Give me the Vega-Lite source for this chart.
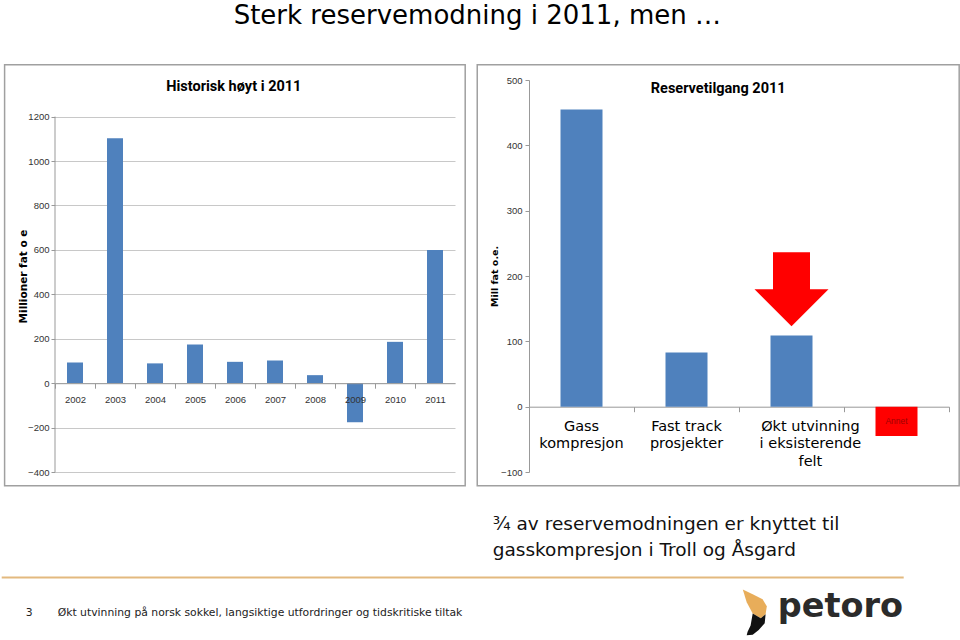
{
  "$schema": "https://vega.github.io/schema/vega-lite/v6.json",
  "background": "white",
  "padding": {"left": 0, "top": 3, "right": 0, "bottom": 0},
  "title": {"text": "Sterk reservemodning i 2011, men …", "anchor": "middle", "frame": "bounds", "font": "DejaVu Sans", "fontSize": 26, "fontWeight": "normal", "color": "#000000", "baseline": "alphabetic", "offset": 14, "dx": -3},
  "config": {"view": {"stroke": null}, "font": "Liberation Sans"},
  "datasets": {
    "hist": [
      {"year": 2002, "value": 93},
      {"year": 2003, "value": 1102},
      {"year": 2004, "value": 89},
      {"year": 2005, "value": 174},
      {"year": 2006, "value": 96},
      {"year": 2007, "value": 102},
      {"year": 2008, "value": 36},
      {"year": 2009, "value": -176},
      {"year": 2010, "value": 186},
      {"year": 2011, "value": 600}
    ],
    "reserve": [
      {"idx": 1, "category": "Gass kompresjon", "label": "Gass\nkompresjon", "value": 455},
      {"idx": 2, "category": "Fast track prosjekter", "label": "Fast track\nprosjekter", "value": 83},
      {"idx": 3, "category": "Økt utvinning i eksisterende felt", "label": "Økt utvinning\ni eksisterende\nfelt", "value": 109},
      {"idx": 4, "category": "Annet", "label": "Annet", "value": -45}
    ]
  },
  "spacing": 3,
  "vconcat": [
    {
      "spacing": 10,
      "hconcat": [
        {
          "width": 400,
          "height": 392,
          "data": {"name": "hist"},
          "layer": [
            {
              "data": {"values": [{}]},
              "mark": {"type": "rect", "fill": null, "stroke": "#a0a0a0", "strokeWidth": 1.5},
              "encoding": {
                "x": {"datum": 2000.24, "type": "quantitative", "scale": {"domain": [2001.5, 2011.5], "nice": false, "zero": false, "padding": 0}},
                "x2": {"datum": 2011.755},
                "y": {"datum": 1433, "type": "quantitative", "scale": {"domain": [-400, 1364.8], "nice": false, "zero": false}},
                "y2": {"datum": -462}
              }
            },
            {
              "mark": {"type": "bar", "width": 16, "color": "#4f81bd", "orient": "vertical"},
              "encoding": {
                "x": {"field": "year", "type": "quantitative", "scale": {"domain": [2001.5, 2011.5], "nice": false, "zero": false, "padding": 0},
                  "axis": {"values": [2002, 2003, 2004, 2005, 2006, 2007, 2008, 2009, 2010, 2011], "format": "d", "title": null, "offset": -88.8, "tickOffset": -20, "labelOffset": 20, "tickSize": 5, "tickColor": "#999999", "domainColor": "#999999", "labelFont": "Liberation Sans", "labelFontSize": 9.5, "labelColor": "#333333", "labelPadding": 6, "labelFlush": false, "labelOverlap": false, "grid": false, "zindex": 1}},
                "y": {"field": "value", "type": "quantitative", "scale": {"domain": [-400, 1364.8], "nice": false, "zero": false},
                  "axis": {"values": [-400, -200, 0, 200, 400, 600, 800, 1000, 1200], "format": "d", "title": "Millioner fat o e", "titleFont": "DejaVu Sans", "titleFontWeight": "bold", "titleFontSize": 10.5, "titleColor": "#000000", "titlePadding": -1, "grid": true, "gridColor": "#c8c8c8", "domain": false, "tickSize": 4, "tickColor": "#999999", "labelFont": "Liberation Sans", "labelFontSize": 9.5, "labelColor": "#333333", "labelPadding": 2}}
              }
            },
            {
              "data": {"values": [{}]},
              "mark": {"type": "rule", "color": "#999999"},
              "encoding": {
                "x": {"datum": 2001.5, "type": "quantitative", "scale": {"domain": [2001.5, 2011.5], "nice": false, "zero": false, "padding": 0}},
                "y": {"datum": 1200, "type": "quantitative", "scale": {"domain": [-400, 1364.8], "nice": false, "zero": false}},
                "y2": {"datum": -400}
              }
            },
            {
              "data": {"values": [{}]},
              "mark": {"type": "text", "text": "Historisk høyt i 2011", "font": "Roboto", "fontWeight": "bold", "fontSize": 14.5, "color": "#000000", "align": "center", "baseline": "middle"},
              "encoding": {
                "x": {"datum": 2005.97, "type": "quantitative", "scale": {"domain": [2001.5, 2011.5], "nice": false, "zero": false, "padding": 0}},
                "y": {"datum": 1332, "type": "quantitative", "scale": {"domain": [-400, 1364.8], "nice": false, "zero": false}}
              }
            }
          ]
        },
        {
          "width": 420,
          "height": 392,
          "data": {"name": "reserve"},
          "layer": [
            {
              "data": {"values": [{}]},
              "mark": {"type": "rect", "fill": null, "stroke": "#a0a0a0", "strokeWidth": 1.5},
              "encoding": {
                "x": {"datum": 0.007, "type": "quantitative", "scale": {"domain": [0.5, 4.5], "nice": false, "zero": false, "padding": 0}},
                "x2": {"datum": 4.597},
                "y": {"datum": 523.3, "type": "quantitative", "scale": {"domain": [-100, 500], "nice": false, "zero": false}},
                "y2": {"datum": -121.1}
              }
            },
            {
              "mark": {"type": "bar", "width": 42, "orient": "vertical"},
              "encoding": {
                "x": {"field": "idx", "type": "quantitative", "scale": {"domain": [0.5, 4.5], "nice": false, "zero": false, "padding": 0},
                  "axis": {"values": [1.5, 2.5, 3.5, 4.5], "labels": false, "title": null, "offset": -65.3, "tickSize": 5, "tickColor": "#999999", "domainColor": "#999999", "grid": false}},
                "y": {"field": "value", "type": "quantitative", "scale": {"domain": [-100, 500], "nice": false, "zero": false},
                  "axis": {"values": [-100, 0, 100, 200, 300, 400, 500], "format": "d", "title": "Mill fat o.e.", "titleFont": "DejaVu Sans", "titleFontWeight": "bold", "titleFontSize": 9.5, "titleColor": "#000000", "titlePadding": 1.5, "grid": false, "domainColor": "#999999", "tickSize": 4, "tickColor": "#999999", "labelFont": "Liberation Sans", "labelFontSize": 9.5, "labelColor": "#333333", "labelPadding": 3}},
                "color": {"field": "category", "type": "nominal", "scale": {"domain": ["Gass kompresjon", "Fast track prosjekter", "Økt utvinning i eksisterende felt", "Annet"], "range": ["#4f81bd", "#4f81bd", "#4f81bd", "#ff0000"]}, "legend": null}
              }
            },
            {
              "transform": [{"filter": "datum.idx <= 2"}],
              "mark": {"type": "text", "font": "DejaVu Sans", "fontSize": 14.5, "lineBreak": "\n", "lineHeight": 17.5, "align": "center", "baseline": "top", "color": "#000000"},
              "encoding": {
                "x": {"field": "idx", "type": "quantitative", "scale": {"domain": [0.5, 4.5], "nice": false, "zero": false, "padding": 0}},
                "y": {"datum": -20, "type": "quantitative", "scale": {"domain": [-100, 500], "nice": false, "zero": false}},
                "text": {"field": "label"}
              }
            },
            {
              "transform": [{"filter": "datum.idx == 3"}],
              "mark": {"type": "text", "font": "DejaVu Sans", "fontSize": 14.5, "lineBreak": "\n", "lineHeight": 17.5, "align": "center", "baseline": "top", "color": "#000000"},
              "encoding": {
                "x": {"datum": 3.18, "type": "quantitative", "scale": {"domain": [0.5, 4.5], "nice": false, "zero": false, "padding": 0}},
                "y": {"datum": -20, "type": "quantitative", "scale": {"domain": [-100, 500], "nice": false, "zero": false}},
                "text": {"field": "label"}
              }
            },
            {
              "transform": [{"filter": "datum.idx == 4"}],
              "mark": {"type": "text", "font": "Liberation Sans", "fontSize": 8.5, "align": "center", "baseline": "middle", "color": "#a00000"},
              "encoding": {
                "x": {"field": "idx", "type": "quantitative", "scale": {"domain": [0.5, 4.5], "nice": false, "zero": false, "padding": 0}},
                "y": {"datum": -22.5, "type": "quantitative", "scale": {"domain": [-100, 500], "nice": false, "zero": false}},
                "text": {"field": "label"}
              }
            },
            {
              "data": {"values": [{}]},
              "mark": {"type": "point", "shape": "M-0.5,-1L0.5,-1L0.5,0L1,0L0,1L-1,0L-0.5,0Z", "filled": true, "color": "#ff0000", "opacity": 1, "size": 5476, "strokeWidth": 0},
              "encoding": {
                "x": {"datum": 3, "type": "quantitative", "scale": {"domain": [0.5, 4.5], "nice": false, "zero": false, "padding": 0}},
                "y": {"datum": 179.6, "type": "quantitative", "scale": {"domain": [-100, 500], "nice": false, "zero": false}}
              }
            },
            {
              "data": {"values": [{}]},
              "mark": {"type": "text", "text": "Reservetilgang 2011", "font": "Roboto", "fontWeight": "bold", "fontSize": 14.5, "color": "#000000", "align": "center", "baseline": "middle"},
              "encoding": {
                "x": {"datum": 2.302, "type": "quantitative", "scale": {"domain": [0.5, 4.5], "nice": false, "zero": false, "padding": 0}},
                "y": {"datum": 485.8, "type": "quantitative", "scale": {"domain": [-100, 500], "nice": false, "zero": false}}
              }
            }
          ]
        }
      ]
    },
    {
      "width": 850,
      "height": 145,
      "data": {"values": [{}]},
      "layer": [
        {
          "mark": {"type": "rule", "color": "#e3b97f", "strokeWidth": 2},
          "encoding": {
            "x": {"datum": 1, "type": "quantitative", "scale": {"domain": [54.3, 904.3], "nice": false, "zero": false, "padding": 0}, "axis": null},
            "x2": {"datum": 903},
            "y": {"datum": 578.3, "type": "quantitative", "scale": {"domain": [490.7, 635.7], "nice": false, "zero": false, "reverse": true}, "axis": null}
          }
        },
        {
          "mark": {"type": "text", "text": "¾ av reservemodningen er knyttet til\ngasskompresjon i Troll og Åsgard", "lineBreak": "\n", "lineHeight": 26, "font": "DejaVu Sans", "fontSize": 18.5, "align": "left", "baseline": "alphabetic", "color": "#111111"},
          "encoding": {
            "x": {"datum": 492, "type": "quantitative", "scale": {"domain": [54.3, 904.3], "nice": false, "zero": false, "padding": 0}, "axis": null},
            "y": {"datum": 531, "type": "quantitative", "scale": {"domain": [490.7, 635.7], "nice": false, "zero": false, "reverse": true}, "axis": null}
          }
        },
        {
          "mark": {"type": "text", "text": "3", "font": "DejaVu Sans", "fontSize": 10.8, "align": "left", "baseline": "alphabetic", "color": "#222222"},
          "encoding": {
            "x": {"datum": 25, "type": "quantitative", "scale": {"domain": [54.3, 904.3], "nice": false, "zero": false, "padding": 0}, "axis": null},
            "y": {"datum": 617, "type": "quantitative", "scale": {"domain": [490.7, 635.7], "nice": false, "zero": false, "reverse": true}, "axis": null}
          }
        },
        {
          "mark": {"type": "text", "text": "Økt utvinning på norsk sokkel, langsiktige utfordringer og tidskritiske tiltak", "font": "DejaVu Sans", "fontSize": 10.8, "align": "left", "baseline": "alphabetic", "color": "#222222"},
          "encoding": {
            "x": {"datum": 57, "type": "quantitative", "scale": {"domain": [54.3, 904.3], "nice": false, "zero": false, "padding": 0}, "axis": null},
            "y": {"datum": 617, "type": "quantitative", "scale": {"domain": [490.7, 635.7], "nice": false, "zero": false, "reverse": true}, "axis": null}
          }
        },
        {
          "mark": {"type": "text", "text": "petoro", "font": "DejaVu Sans", "fontWeight": "bold", "fontSize": 33.5, "align": "left", "baseline": "alphabetic", "color": "#2b2b2b"},
          "encoding": {
            "x": {"datum": 777, "type": "quantitative", "scale": {"domain": [54.3, 904.3], "nice": false, "zero": false, "padding": 0}, "axis": null},
            "y": {"datum": 617.5, "type": "quantitative", "scale": {"domain": [490.7, 635.7], "nice": false, "zero": false, "reverse": true}, "axis": null}
          }
        },
        {
          "mark": {"type": "point", "shape": "M-0.43,-0.83L-0.1,-0.67L0.23,-0.5L0.37,-0.27L0.33,0L0.17,0.13L-0.1,-0.03L-0.3,-0.4Z", "filled": true, "color": "#e8ad5a", "opacity": 1, "size": 3600, "strokeWidth": 0},
          "encoding": {
            "x": {"datum": 755, "type": "quantitative", "scale": {"domain": [54.3, 904.3], "nice": false, "zero": false, "padding": 0}, "axis": null},
            "y": {"datum": 615, "type": "quantitative", "scale": {"domain": [490.7, 635.7], "nice": false, "zero": false, "reverse": true}, "axis": null}
          }
        },
        {
          "mark": {"type": "point", "shape": "M-0.1,-0.03L0.17,0.13L0.33,0L0.3,0.3L0.1,0.52L-0.1,0.68L-0.3,0.7L-0.27,0.58L-0.17,0.37Z", "filled": true, "color": "#111111", "opacity": 1, "size": 3600, "strokeWidth": 0},
          "encoding": {
            "x": {"datum": 755, "type": "quantitative", "scale": {"domain": [54.3, 904.3], "nice": false, "zero": false, "padding": 0}, "axis": null},
            "y": {"datum": 615, "type": "quantitative", "scale": {"domain": [490.7, 635.7], "nice": false, "zero": false, "reverse": true}, "axis": null}
          }
        }
      ]
    }
  ]
}
